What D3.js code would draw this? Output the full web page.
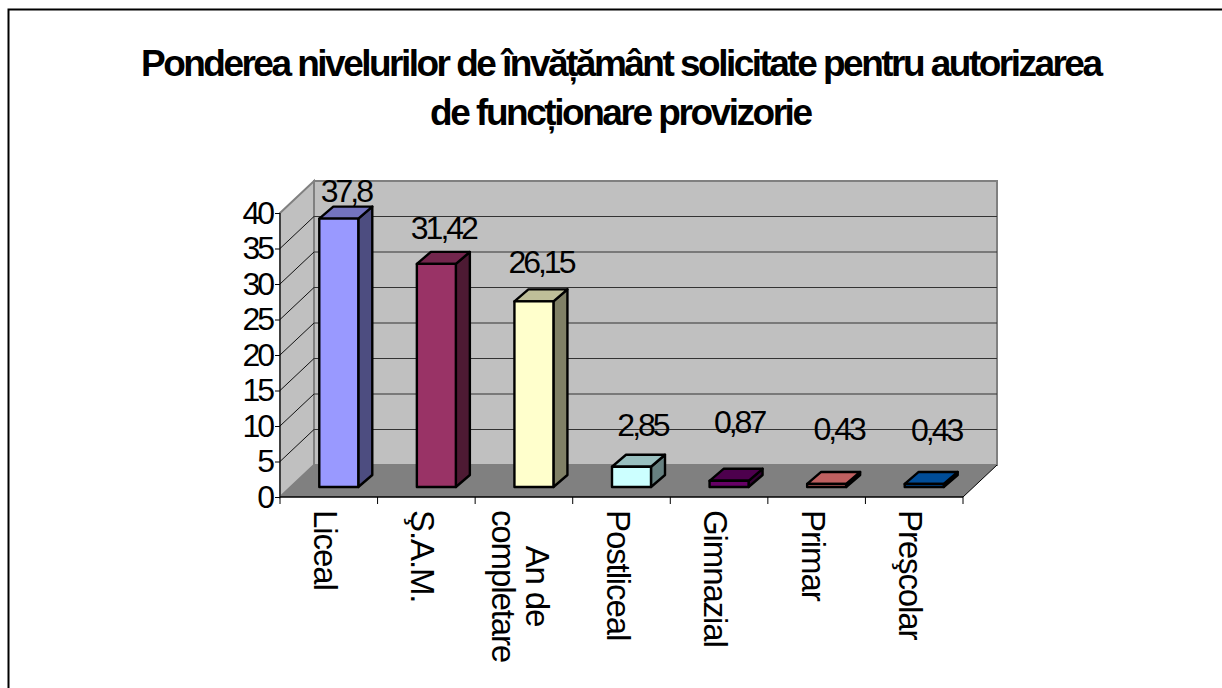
<!DOCTYPE html>
<html>
<head>
<meta charset="utf-8">
<script src="https://cdn.jsdelivr.net/npm/d3@7"></script>
<style>
html, body { margin: 0; padding: 0; background: #fff; overflow: hidden; }
svg { display: block; }
text { font-family: "Liberation Sans", Arial, sans-serif; fill: #000; }
</style>
</head>
<body>
<div id="chart"></div>
<script>
var categories = ["Liceal", "Ş.A.M.", "An de\ncompletare", "Postliceal", "Gimnazial", "Primar", "Preşcolar"];
var values = [37.8, 31.42, 26.15, 2.85, 0.87, 0.43, 0.43];
var valueLabels = ["37,8", "31,42", "26,15", "2,85", "0,87", "0,43", "0,43"];
var yTicks = [0, 5, 10, 15, 20, 25, 30, 35, 40];
var titleLines = ["Ponderea nivelurilor de învățământ solicitate pentru autorizarea", "de funcționare provizorie"];

// front, side, top colours of each bar
var frontColors = ["#9999ff", "#993366", "#ffffcc", "#ccffff", "#660066", "#ff8080", "#0066cc"];
var sideColors = ["#4d4d80", "#4d1a33", "#808066", "#668080", "#330033", "#804040", "#003366"];
var topColors = ["#7373bf", "#73264d", "#bfbf99", "#99bfbf", "#4d004d", "#bf6060", "#004d99"];

// hand placed data labels: shift from bar centre, lift above the bar top
var labelShift = [7, 7, 7, 11, 10, 12, 12];
var labelLift = [5, 13, 16, 19, 36, 32, 31];

var width = 1222, height = 688;

// Plot geometry: front axis plane plus the 3d depth of the walls
var x0 = 280, x1 = 963, yBase = 497, yTop = 213;
var depth = { x: 34, y: 32 };
var bar = { w: 39, dx: 14, dy: 12, inX: 10, inY: 10 };

var x = d3.scaleBand().domain(categories).range([x0, x1]);
var y = d3.scaleLinear().domain([0, 40]).range([yBase, yTop]);

var svg = d3.select("#chart").append("svg")
	.attr("width", width)
	.attr("height", height);

// outer frame, runs off the right and bottom of the picture
svg.append("rect")
	.attr("x", 8.5).attr("y", 9.5)
	.attr("width", width + 20).attr("height", height + 20)
	.attr("fill", "#fff")
	.attr("stroke", "#000")
	.attr("stroke-width", 2);

// title
svg.selectAll("text.title")
	.data(titleLines)
	.enter().append("text")
	.attr("class", "title")
	.attr("x", function(d, i) { return i ? 430 : 141; })
	.attr("y", function(d, i) { return i ? 125 : 76; })
	.attr("textLength", function(d, i) { return i ? 383 : 962; })
	.attr("lengthAdjust", "spacing")
	.style("font-size", "37px")
	.style("font-weight", "bold")
	.text(function(d) { return d; });

function pts(a) { return a.map(function(p) { return p.join(","); }).join(" "); }

// back wall
svg.append("polygon")
	.attr("points", pts([[x0 + depth.x, yTop - depth.y], [x1 + depth.x, yTop - depth.y], [x1 + depth.x, yBase - depth.y], [x0 + depth.x, yBase - depth.y]]))
	.attr("fill", "#c0c0c0")
	.attr("stroke", "#808080")
	.attr("stroke-width", 2);

// side wall
svg.append("polygon")
	.attr("points", pts([[x0, yTop], [x0 + depth.x, yTop - depth.y], [x0 + depth.x, yBase - depth.y], [x0, yBase]]))
	.attr("fill", "#c0c0c0")
	.attr("stroke", "#808080")
	.attr("stroke-width", 2);

// gridlines on the back wall and the side wall
var grid = yTicks.filter(function(d) { return d > 0; });

svg.selectAll("line.back")
	.data(grid.slice(0, -1))
	.enter().append("line")
	.attr("class", "back")
	.attr("x1", x0 + depth.x).attr("x2", x1 + depth.x)
	.attr("y1", function(d) { return y(d) - depth.y; })
	.attr("y2", function(d) { return y(d) - depth.y; })
	.attr("stroke", "#333")
	.attr("stroke-width", 1);

svg.selectAll("line.side")
	.data(grid.slice(0, -1))
	.enter().append("line")
	.attr("class", "side")
	.attr("x1", x0).attr("x2", x0 + depth.x)
	.attr("y1", function(d) { return y(d); })
	.attr("y2", function(d) { return y(d) - depth.y; })
	.attr("stroke", "#111")
	.attr("stroke-width", 1);

// floor
svg.append("polygon")
	.attr("points", pts([[x0, yBase], [x0 + depth.x, yBase - depth.y], [x1 + depth.x, yBase - depth.y], [x1, yBase]]))
	.attr("fill", "#808080");

svg.append("line")
	.attr("x1", x1).attr("y1", yBase)
	.attr("x2", x1 + depth.x).attr("y2", yBase - depth.y)
	.attr("stroke", "#000")
	.attr("stroke-width", 1);

// y axis
var yAxis = d3.axisLeft(y)
	.tickValues(yTicks)
	.tickSize(5)
	.tickPadding(3);

var yg = svg.append("g")
	.attr("transform", "translate(" + x0 + ",0)")
	.call(yAxis);
yg.selectAll("line").attr("stroke", "#000");
yg.select(".domain").attr("stroke", "#000").attr("d", "M0," + yTop + "V" + yBase);
yg.selectAll("text")
	.attr("dy", null)
	.attr("y", 10)
	.style("font-family", '"Liberation Sans", Arial, sans-serif')
	.style("font-size", "32px")
	.style("letter-spacing", "-3px");

// x axis: base line and ticks on the band edges
svg.append("line")
	.attr("x1", x0).attr("x2", x1)
	.attr("y1", yBase).attr("y2", yBase)
	.attr("stroke", "#000")
	.attr("stroke-width", 1.5);

svg.selectAll("line.xtick")
	.data(d3.range(categories.length + 1))
	.enter().append("line")
	.attr("class", "xtick")
	.attr("x1", function(d) { return x0 + d * x.bandwidth(); })
	.attr("x2", function(d) { return x0 + d * x.bandwidth(); })
	.attr("y1", yBase).attr("y2", yBase + 7)
	.attr("stroke", "#000");

// category labels, rotated
var cat = svg.selectAll("g.cat")
	.data(categories)
	.enter().append("g")
	.attr("class", "cat")
	.attr("transform", function(d) {
		return "translate(" + (x(d) + x.bandwidth() / 2 - 15) + "," + 510 + ") rotate(90)";
	});

cat.each(function(d) {
	var lines = d.split("\n");
	var g = d3.select(this);
	lines.forEach(function(line, i) {
		g.append("text")
			.attr("x", lines.length > 1 ? 76 : 0)
			.attr("y", lines.length > 1 ? (i === 0 ? -17 : 17) : 0)
			.attr("text-anchor", lines.length > 1 ? "middle" : "start")
			.style("font-size", "33px")
			.style("letter-spacing", "-1.1px")
			.text(line);
	});
});

// bars, one front + side + top per value
var bars = svg.selectAll("g.bar")
	.data(values)
	.enter().append("g")
	.attr("class", "bar")
	.attr("stroke", "#000")
	.attr("stroke-width", 2.4)
	.attr("stroke-linejoin", "round");

function barLeft(i) { return x(categories[i]) + x.bandwidth() / 2 + bar.inX - bar.w / 2; }

bars.append("polygon")
	.attr("fill", function(d, i) { return sideColors[i]; })
	.attr("points", function(d, i) {
		var r = barLeft(i) + bar.w, t = y(d) - bar.inY, b0 = yBase - bar.inY;
		return pts([[r, t], [r + bar.dx, t - bar.dy], [r + bar.dx, b0 - bar.dy], [r, b0]]);
	});

bars.append("polygon")
	.attr("fill", function(d, i) { return topColors[i]; })
	.attr("points", function(d, i) {
		var l = barLeft(i), t = y(d) - bar.inY;
		return pts([[l, t], [l + bar.dx, t - bar.dy], [l + bar.w + bar.dx, t - bar.dy], [l + bar.w, t]]);
	});

bars.append("rect")
	.attr("fill", function(d, i) { return frontColors[i]; })
	.attr("x", function(d, i) { return barLeft(i); })
	.attr("y", function(d) { return y(d) - bar.inY; })
	.attr("width", bar.w)
	.attr("height", function(d) { return yBase - y(d); });

// value labels
svg.selectAll("text.val")
	.data(values)
	.enter().append("text")
	.attr("class", "val")
	.attr("x", function(d, i) { return barLeft(i) + bar.w / 2 + labelShift[i]; })
	.attr("y", function(d, i) { return y(d) - bar.inY - bar.dy - labelLift[i]; })
	.attr("text-anchor", "middle")
	.style("font-size", "32px")
	.style("letter-spacing", "-3px")
	.text(function(d, i) { return valueLabels[i]; });
</script>
</body>
</html>
